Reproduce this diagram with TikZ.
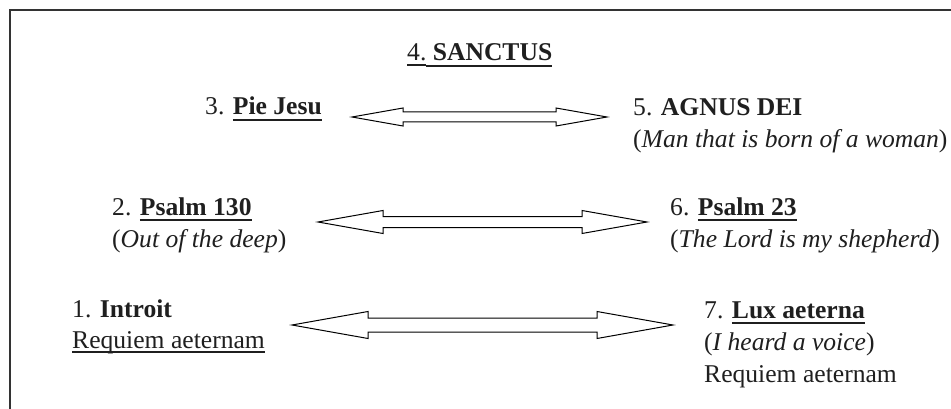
\documentclass[tikz,border=0pt]{standalone}
\usepackage{fontspec}
\setmainfont{Liberation Serif}
\usetikzlibrary{calc}
\newcommand{\myul}[3]{\setbox0\hbox{#3}\rlap{\rule[-#1]{\wd0}{#2}}\box0}
\newcommand{\thinul}[1]{\myul{4.6pt}{1.2pt}{#1}}
\newcommand{\thickul}[1]{\myul{5.6pt}{2pt}{#1}}
\newcommand{\dblarrow}[5]{%
  \draw[arr] (#1) -- ($(#1)+(#3,-#5)$) -- ($(#1)+(#3,-#4)$) -- ($(#2)+(-#3,-#4)$)
    -- ($(#2)+(-#3,-#5)$) -- (#2) -- ($(#2)+(-#3,#5)$) -- ($(#2)+(-#3,#4)$)
    -- ($(#1)+(#3,#4)$) -- ($(#1)+(#3,#5)$) -- cycle;}
\tikzset{
  lbl/.style={anchor=base west, inner sep=0pt, text=black!88,
    font=\fontsize{25.6}{32}\selectfont},
  arr/.style={draw=black, line width=1pt, line join=miter, fill=white},
  frame/.style={draw=black!80, line width=1.6pt}
}
\begin{document}
\begin{tikzpicture}[x=1pt,y=-1pt]
\useasboundingbox (0,0) rectangle (951,409);
\fill[white] (0,0) rectangle (951,409);
\coordinate (ftr) at (951,10);
\coordinate (ftl) at (10,10);
\coordinate (fbl) at (10,409);
\draw[frame] (ftr) -- (ftl) -- (fbl);

\node[lbl] (n4) at (407,61) {\thinul{4.}\thickul{\ \textbf{SANCTUS}}};

\node[lbl] (n3) at (205,115) {3. \thickul{\textbf{Pie Jesu}}};
\node[lbl] (n5) at (633,116) {5. \textbf{AGNUS DEI}};
\node[lbl] (n5b) at (633,148) {(\textit{Man that is born of a woman})};

\node[lbl] (n2) at (112,215) {2. \thickul{\textbf{Psalm 130}}};
\node[lbl] (n2b) at (112,247) {(\textit{Out of the deep})};
\node[lbl] (n6) at (670,215) {6. \thickul{\textbf{Psalm 23}}};
\node[lbl] (n6b) at (670,247) {(\textit{The Lord is my shepherd})};

\node[lbl] (n1) at (72,317) {1. \textbf{Introit}};
\node[lbl] (n1b) at (72,348) {\thinul{Requiem aeternam}};
\node[lbl] (n7) at (704,318) {7. \thickul{\textbf{Lux aeterna}}};
\node[lbl] (n7b) at (704,350) {(\textit{I heard a voice})};
\node[lbl] (n7c) at (704,382) {Requiem aeternam};

\coordinate (a1l) at (352,117);
\coordinate (a1r) at (607,117);
\coordinate (a2l) at (318,222);
\coordinate (a2r) at (647,222);
\coordinate (a3l) at (292,325);
\coordinate (a3r) at (673,325);
\dblarrow{a1l}{a1r}{51}{5}{9}
\dblarrow{a2l}{a2r}{65}{5.5}{11.5}
\dblarrow{a3l}{a3r}{76}{7}{13.5}
\end{tikzpicture}
\end{document}
